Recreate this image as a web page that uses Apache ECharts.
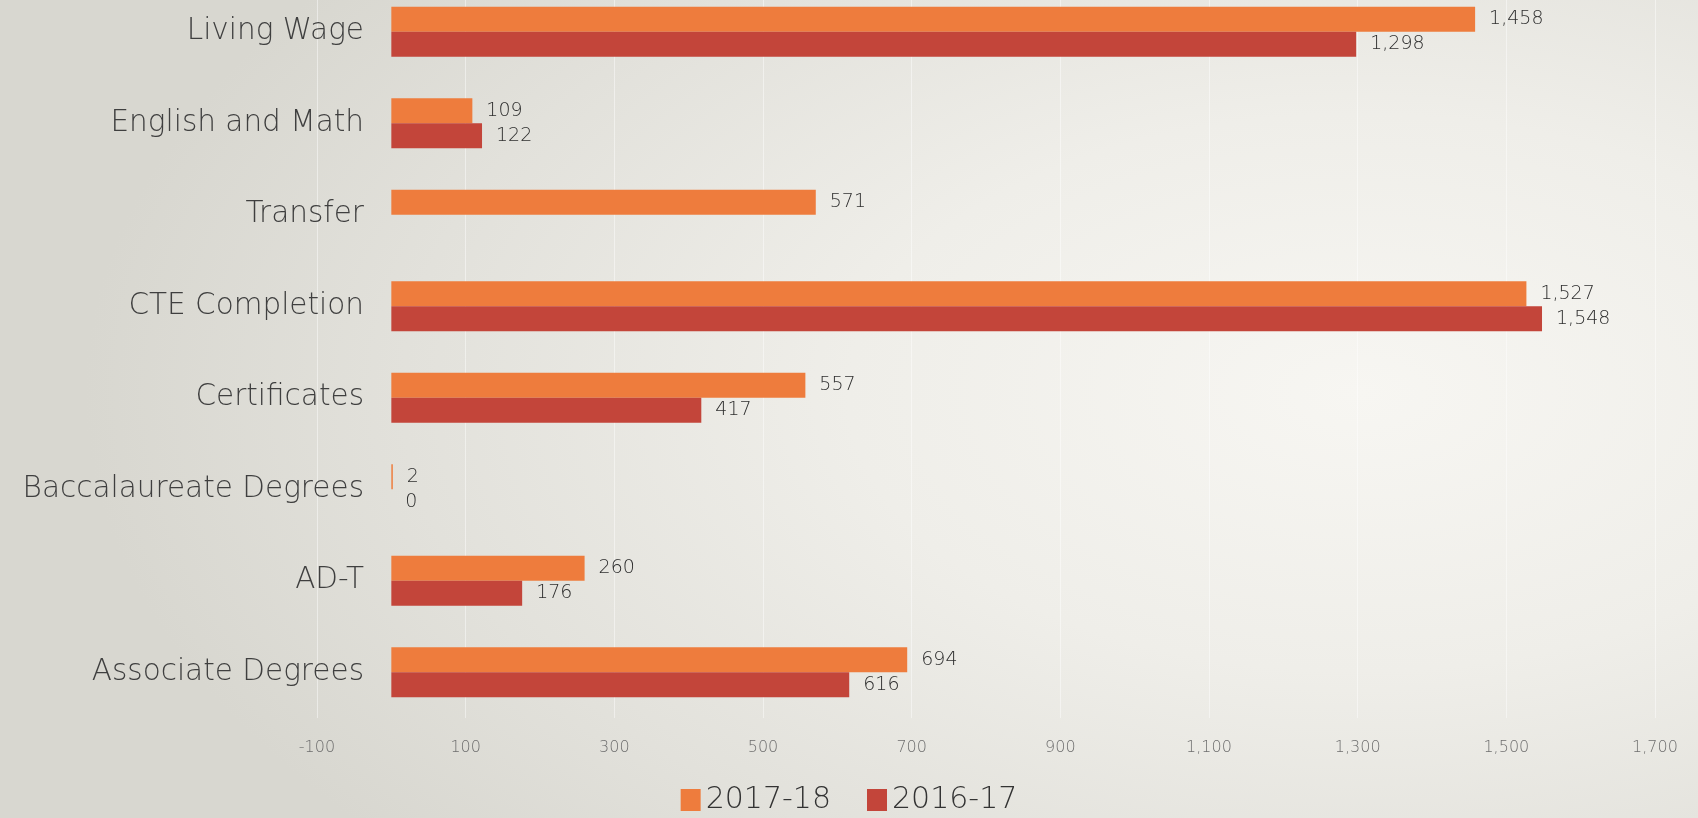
<!DOCTYPE html>
<html>
<head>
<meta charset="utf-8">
<script src="https://cdn.jsdelivr.net/npm/echarts@6/dist/echarts.min.js"></script>
<style>
  html, body { margin: 0; padding: 0; }
  body {
    width: 1698px; height: 818px; overflow: hidden;
    background: radial-gradient(ellipse 75% 85% at 80% 48%, #f7f6f2 0%, #efeee9 40%, #e2e1db 75%, #d8d7d0 100%);
  }
  #chart { width: 1698px; height: 818px; }
</style>
</head>
<body>
<div id="chart"></div>
<script>
// Outcome categories, listed top to bottom
const categories = [
  'Living Wage',
  'English and Math',
  'Transfer',
  'CTE Completion',
  'Certificates',
  'Baccalaureate Degrees',
  'AD-T',
  'Associate Degrees'
];

// Counts per year (null = not reported)
const values2017_18 = [1458, 109, 571, 1527, 557, 2, 260, 694];
const values2016_17 = [1298, 122, null, 1548, 417, 0, 176, 616];

// Value axis ticks
const tickMin = -100;
const tickMax = 1700;
const tickStep = 200;

const fmt = v => Number(v).toLocaleString('en-US');
const FONT = 'DejaVu Sans';

const chart = echarts.init(document.getElementById('chart'), null, { renderer: 'canvas' });

const labelStyle = {
  show: true,
  position: 'right',
  distance: 14,
  color: '#2e2e2e',
  fontFamily: FONT,
  fontWeight: 200,
  fontSize: 19,
  formatter: p => fmt(p.value)
};

chart.setOption({
  backgroundColor: 'transparent',
  animation: false,
  grid: {
    left: 317, right: 43, top: -14, bottom: 100,
    containLabel: false,
    outerBoundsMode: 'none'
  },
  legend: {
    data: ['2017-18', '2016-17'],
    left: 'center',
    top: 780,
    itemWidth: 20,
    itemHeight: 22,
    itemGap: 36,
    icon: 'rect',
    textStyle: { fontFamily: FONT, fontWeight: 200, fontSize: 30, color: '#333333' }
  },
  xAxis: {
    type: 'value',
    min: tickMin,
    max: tickMax,
    interval: tickStep,
    axisLine: { show: false },
    axisTick: { show: false },
    splitLine: { show: true, lineStyle: { color: 'rgba(255,255,255,0.45)', width: 1 } },
    axisLabel: {
      margin: 22,
      color: '#6e6e6e',
      fontFamily: FONT,
      fontWeight: 200,
      fontSize: 16,
      formatter: v => fmt(v)
    }
  },
  yAxis: {
    type: 'category',
    data: categories,
    inverse: true,
    offset: -74,
    axisLine: { show: false, onZero: false },
    axisTick: { show: false },
    axisLabel: {
      margin: 27,
      color: '#3f3f3f',
      fontFamily: FONT,
      fontWeight: 200,
      fontSize: 29.5
    }
  },
  series: [
    {
      name: '2017-18',
      type: 'bar',
      data: values2017_18,
      barWidth: 25,
      barGap: '0%',
      itemStyle: { color: '#ee7c3d' },
      label: labelStyle
    },
    {
      name: '2016-17',
      type: 'bar',
      data: values2016_17,
      barWidth: 25,
      barGap: '0%',
      itemStyle: { color: '#c3453a' },
      label: labelStyle
    }
  ]
});
</script>
</body>
</html>
